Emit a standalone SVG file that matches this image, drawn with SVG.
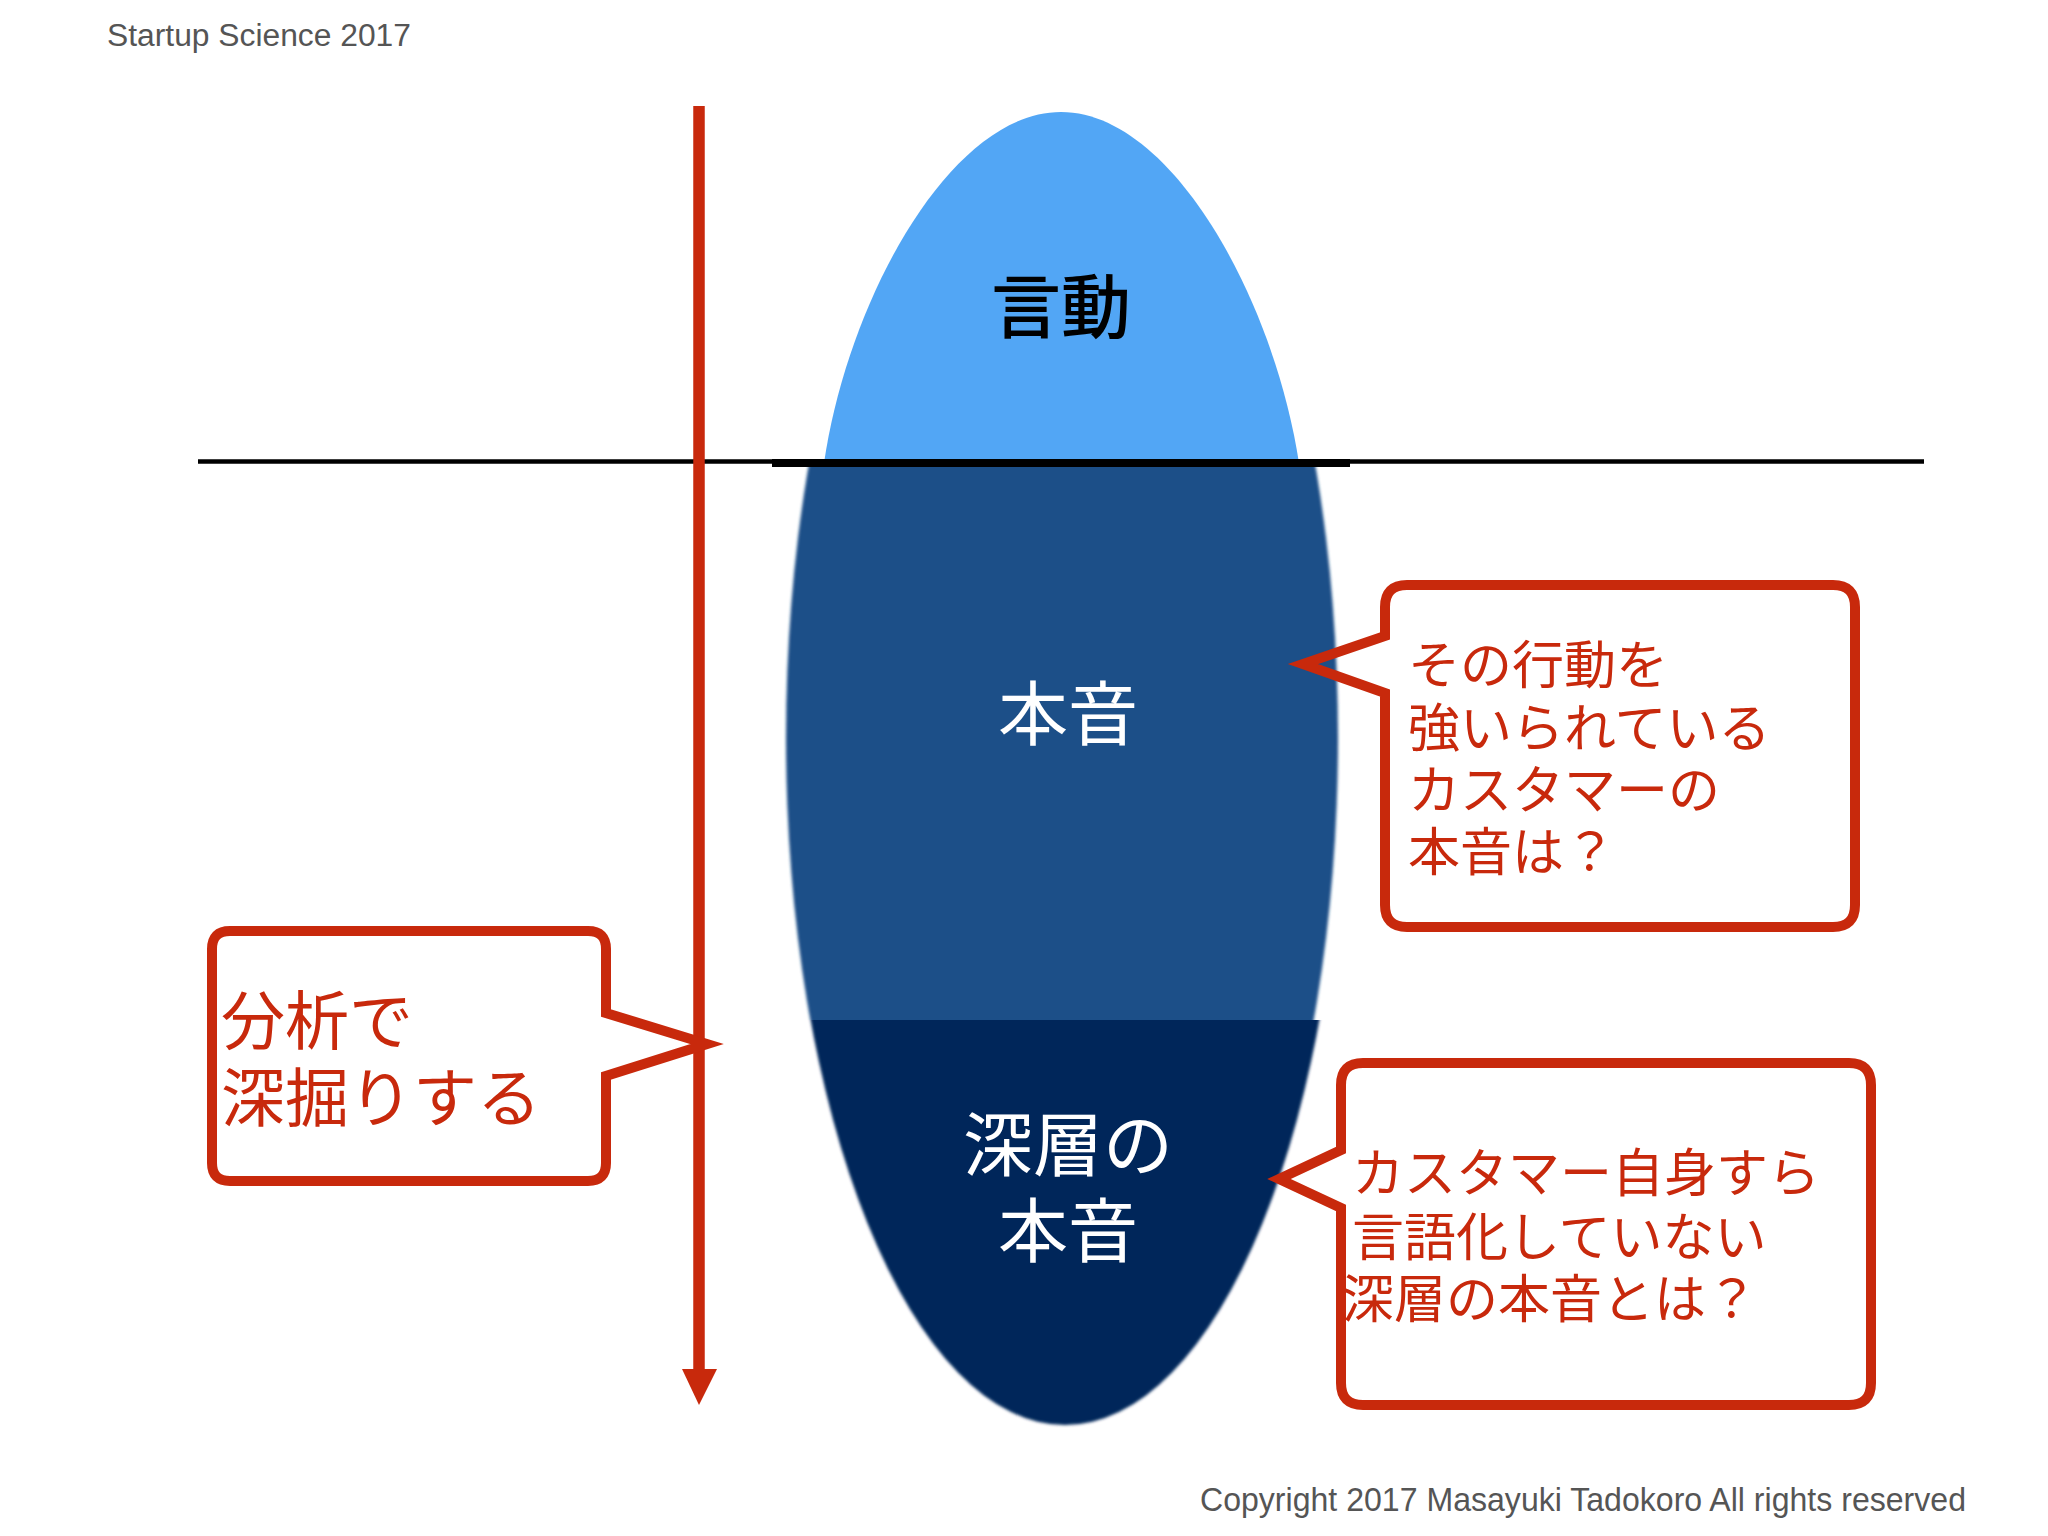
<svg xmlns="http://www.w3.org/2000/svg" width="2048" height="1536" viewBox="0 0 2048 1536">
<style>
.cap{font-family:"Liberation Sans",Arial,sans-serif;fill:#555555}
.jp{font-family:"Noto Sans CJK JP","Noto Sans CJK SC",sans-serif}
.red{fill:#C8290C}
.call{fill:none;stroke:#C8290C;stroke-width:10;stroke-linejoin:miter;stroke-miterlimit:6}
</style>
<defs>
<clipPath id="mid"><rect x="0" y="463" width="2048" height="557"/></clipPath>
<clipPath id="deep"><rect x="0" y="1020" width="2048" height="600"/></clipPath>
<filter id="soft" x="-5%" y="-5%" width="110%" height="110%"><feGaussianBlur stdDeviation="1.6"/></filter>
</defs>
<rect x="0" y="0" width="2048" height="1536" fill="#ffffff"/>
<text class="cap" x="107" y="46" font-size="31" textLength="304" lengthAdjust="spacingAndGlyphs">Startup Science 2017</text>
<text class="cap" x="1200" y="1511" font-size="33" textLength="766" lengthAdjust="spacingAndGlyphs">Copyright 2017 Masayuki Tadokoro All rights reserved</text>

<g id="iceberg">
<path id="surface" d="M 824,463 C 848,300 950,112 1061,112 C 1172,112 1274,300 1299,463 Z" fill="#52A6F5"/>
<g clip-path="url(#mid)"><ellipse cx="1062" cy="738" rx="276" ry="687" fill="#1E4F88" filter="url(#soft)"/></g>
<g clip-path="url(#deep)"><ellipse cx="1065" cy="738" rx="279" ry="687" fill="#04275A" filter="url(#soft)"/></g>
</g>

<g id="waterline">
<line x1="198" y1="461.5" x2="1924" y2="461.5" stroke="#000" stroke-width="4.5"/>
<rect x="772" y="459" width="578" height="8" fill="#000"/>
</g>

<g id="labels" class="jp">
<text x="1061" y="333" font-size="70" font-weight="500" text-anchor="middle" fill="#000">言動</text>
<text x="1068" y="740" font-size="70" text-anchor="middle" fill="#fff">本音</text>
<text x="1068" y="1171" font-size="70" text-anchor="middle" fill="#fff">深層の</text>
<text x="1068" y="1257" font-size="70" text-anchor="middle" fill="#fff">本音</text>
</g>

<g id="connectors">
<line x1="699" y1="106" x2="699" y2="1372" stroke="#C8290C" stroke-width="11.5"/>
<polygon points="682,1369 717,1369 699,1405" fill="#C8290C"/>
</g>

<g id="callout-left">
<path class="call" d="M 230,931 H 588 Q 606,931 606,949 V 1013 L 707,1044 L 606,1076 V 1163 Q 606,1181 588,1181 H 230 Q 212,1181 212,1163 V 949 Q 212,931 230,931 Z"/>
<text class="jp red" font-size="64"><tspan x="221" y="1044">分析で</tspan><tspan x="221" y="1121">深掘りする</tspan></text>
</g>

<g id="callout-honne">
<path class="call" d="M 1407,585 H 1833 Q 1855,585 1855,607 V 905 Q 1855,927 1833,927 H 1407 Q 1385,927 1385,905 V 693 L 1303,664 L 1385,636 V 607 Q 1385,585 1407,585 Z"/>
<text class="jp red" font-size="52"><tspan x="1408" y="684">その行動を</tspan><tspan x="1408" y="747">強いられている</tspan><tspan x="1408" y="809">カスタマーの</tspan><tspan x="1408" y="871">本音は？</tspan></text>
</g>

<g id="callout-deep">
<path class="call" d="M 1363,1063 H 1849 Q 1871,1063 1871,1085 V 1383 Q 1871,1405 1849,1405 H 1363 Q 1341,1405 1341,1383 V 1208 L 1279,1179 L 1341,1150 V 1085 Q 1341,1063 1363,1063 Z"/>
<text class="jp red" font-size="52"><tspan x="1352" y="1192">カスタマー自身すら</tspan><tspan x="1352" y="1256">言語化していない</tspan><tspan x="1342" y="1318">深層の本音とは？</tspan></text>
</g>
</svg>
